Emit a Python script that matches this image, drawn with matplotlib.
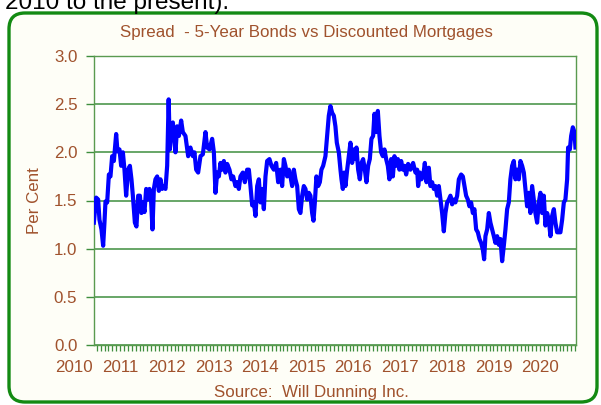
import matplotlib.pyplot as plt
import matplotlib.transforms as mtransforms
from matplotlib.patches import FancyBboxPatch
from matplotlib.ticker import MultipleLocator
import numpy as np

# spread between 5-year bond yield and discounted mortgage rate (per cent)
dates = [
    2010.437, 2010.486, 2010.529, 2010.557, 2010.600, 2010.636, 2010.664, 2010.686,
    2010.722, 2010.759, 2010.793, 2010.829, 2010.866, 2010.915, 2010.943, 2010.986,
    2011.022, 2011.059, 2011.093, 2011.129, 2011.172, 2011.209, 2011.243, 2011.273,
    2011.316, 2011.350, 2011.387, 2011.423, 2011.457, 2011.487, 2011.522, 2011.558,
    2011.594, 2011.629, 2011.665, 2011.693, 2011.723, 2011.757, 2011.794, 2011.830,
    2011.864, 2011.901, 2011.937, 2011.972, 2012.008, 2012.040, 2012.066, 2012.100,
    2012.130, 2012.186, 2012.222, 2012.259, 2012.308, 2012.344, 2012.400, 2012.458,
    2012.507, 2012.559, 2012.593, 2012.630, 2012.672, 2012.722, 2012.773, 2012.829,
    2012.865, 2012.915, 2012.972, 2013.009, 2013.043, 2013.080, 2013.116, 2013.150,
    2013.187, 2013.223, 2013.257, 2013.294, 2013.343, 2013.386, 2013.422, 2013.472,
    2013.508, 2013.544, 2013.579, 2013.630, 2013.673, 2013.722, 2013.759, 2013.793,
    2013.830, 2013.866, 2013.901, 2013.937, 2013.973, 2014.007, 2014.044, 2014.080,
    2014.115, 2014.151, 2014.200, 2014.243, 2014.294, 2014.344, 2014.387, 2014.436,
    2014.472, 2014.509, 2014.543, 2014.580, 2014.616, 2014.650, 2014.687, 2014.723,
    2014.757, 2014.794, 2014.830, 2014.864, 2014.901, 2014.937, 2014.972, 2015.008,
    2015.044, 2015.079, 2015.115, 2015.144, 2015.173, 2015.207, 2015.244, 2015.280,
    2015.314, 2015.351, 2015.400, 2015.437, 2015.472, 2015.507, 2015.544, 2015.580,
    2015.614, 2015.644, 2015.687, 2015.722, 2015.744, 2015.773, 2015.801, 2015.829,
    2015.866, 2015.902, 2015.936, 2015.972, 2016.009, 2016.043, 2016.065, 2016.101,
    2016.137, 2016.172, 2016.208, 2016.244, 2016.279, 2016.315, 2016.351, 2016.386,
    2016.422, 2016.450, 2016.487, 2016.523, 2016.558, 2016.594, 2016.630, 2016.665,
    2016.701, 2016.737, 2016.771, 2016.808, 2016.845, 2016.879, 2016.915, 2016.952,
    2016.986, 2017.023, 2017.059, 2017.093, 2017.130, 2017.172, 2017.222, 2017.279,
    2017.329, 2017.366, 2017.387, 2017.423, 2017.458, 2017.494, 2017.530, 2017.565,
    2017.616, 2017.650, 2017.687, 2017.723, 2017.758, 2017.794, 2017.830, 2017.865,
    2017.901, 2017.937, 2017.972, 2018.008, 2018.045, 2018.079, 2018.115, 2018.152,
    2018.186, 2018.223, 2018.259, 2018.308, 2018.345, 2018.379, 2018.415, 2018.452,
    2018.486, 2018.522, 2018.559, 2018.593, 2018.630, 2018.666, 2018.701, 2018.737,
    2018.773, 2018.801, 2018.829, 2018.866, 2018.902, 2018.936, 2018.973, 2019.009,
    2019.043, 2019.080, 2019.116, 2019.151, 2019.187, 2019.223, 2019.258, 2019.294,
    2019.330, 2019.364, 2019.401, 2019.437, 2019.472, 2019.508, 2019.545, 2019.579,
    2019.616, 2019.652, 2019.686, 2019.722, 2019.759, 2019.793, 2019.830, 2019.866,
    2019.900, 2019.937, 2019.973, 2020.008, 2020.044, 2020.080, 2020.115, 2020.151,
    2020.187, 2020.222, 2020.258, 2020.295, 2020.329, 2020.366, 2020.402, 2020.436,
    2020.473, 2020.509, 2020.543, 2020.580, 2020.601, 2020.638, 2020.666, 2020.702,
    2020.737, 2020.758,
]
spread = [
    1.27, 1.53, 1.51, 1.30, 1.20, 1.03, 1.27, 1.49,
    1.48, 1.77, 1.75, 1.96, 1.91, 2.19, 2.01, 2.03,
    1.86, 2.00, 1.82, 1.55, 1.82, 1.86, 1.72, 1.55,
    1.27, 1.23, 1.55, 1.55, 1.37, 1.48, 1.38, 1.62,
    1.51, 1.62, 1.48, 1.20, 1.62, 1.72, 1.75, 1.60,
    1.72, 1.62, 1.65, 1.62, 1.86, 2.55, 2.03, 2.27,
    2.31, 2.00, 2.27, 2.17, 2.33, 2.21, 2.17, 1.96,
    2.05, 1.96, 2.00, 1.82, 1.79, 1.96, 1.98, 2.21,
    2.05, 2.03, 2.14, 2.00, 1.58, 1.79, 1.75, 1.89,
    1.82, 1.91, 1.79, 1.88, 1.82, 1.72, 1.75, 1.65,
    1.69, 1.62, 1.75, 1.79, 1.69, 1.82, 1.82, 1.65,
    1.45, 1.48, 1.34, 1.65, 1.72, 1.48, 1.62, 1.41,
    1.75, 1.91, 1.93, 1.86, 1.82, 1.89, 1.69, 1.82,
    1.65, 1.93, 1.86, 1.75, 1.82, 1.75, 1.65, 1.82,
    1.72, 1.65, 1.41, 1.37, 1.55, 1.65, 1.62, 1.51,
    1.58, 1.55, 1.37, 1.29, 1.48, 1.75, 1.65, 1.69,
    1.82, 1.86, 1.96, 2.17, 2.38, 2.48, 2.41, 2.38,
    2.27, 2.10, 2.00, 1.82, 1.72, 1.62, 1.79, 1.65,
    1.82, 1.96, 2.10, 1.89, 2.03, 1.93, 2.05, 1.82,
    1.72, 1.89, 1.93, 1.82, 1.69, 1.86, 1.93, 2.14,
    2.17, 2.40, 2.21, 2.43, 2.17, 2.00, 1.96, 2.03,
    1.93, 1.86, 1.72, 1.93, 1.75, 1.96, 1.86, 1.93,
    1.82, 1.91, 1.82, 1.86, 1.77, 1.88, 1.82, 1.89,
    1.79, 1.82, 1.65, 1.79, 1.72, 1.75, 1.89, 1.69,
    1.84, 1.65, 1.69, 1.62, 1.65, 1.55, 1.65, 1.51,
    1.37, 1.18, 1.37, 1.48, 1.51, 1.55, 1.46, 1.51,
    1.48, 1.55, 1.72, 1.77, 1.75, 1.65, 1.55, 1.51,
    1.44, 1.48, 1.37, 1.41, 1.20, 1.17, 1.10, 1.06,
    0.99, 0.89, 1.13, 1.20, 1.37, 1.27, 1.20, 1.13,
    1.06, 1.13, 1.04, 1.10, 0.87, 1.03, 1.20, 1.41,
    1.48, 1.72, 1.86, 1.91, 1.72, 1.82, 1.72, 1.91,
    1.86, 1.79, 1.62, 1.44, 1.58, 1.37, 1.65, 1.51,
    1.37, 1.27, 1.48, 1.58, 1.37, 1.55, 1.24, 1.37,
    1.30, 1.13, 1.34, 1.41, 1.27, 1.17, 1.17, 1.17,
    1.30, 1.48, 1.51, 1.72, 2.05, 2.03, 2.17, 2.26,
    2.21, 2.05,
]
years = list(range(2010, 2021))

TEXT = '#A0522D'
GRID = '#3E8E3E'
FS = 12.2
plt.rcParams['font.family'] = ['Liberation Sans', 'DejaVu Sans']

fig = plt.figure(figsize=(6.01, 4.05), dpi=100)
fig.patch.set_facecolor('white')

# green rounded frame around the chart (pixel coordinates), kept behind the axes
frame = FancyBboxPatch((9, 3), 588, 389, boxstyle='round,pad=0,rounding_size=16',
                       transform=mtransforms.IdentityTransform(),
                       facecolor='#FEFEF7', edgecolor='#138A13', linewidth=2.4,
                       zorder=-10)
fig.add_artist(frame)

# leftover caption text from the page above the chart (cut by the top edge)
fig.text(0.008, 0.977, '2010 to the present).', fontsize=17.5, color='black',
         va='baseline', ha='left')

ax = fig.add_axes([94 / 601, 60 / 405, 482 / 601, 289 / 405])
ax.set_facecolor('white')
ax.plot(dates, spread, color='#0000FF', linewidth=3.0, solid_joinstyle='round', zorder=3)

ax.set_xlim(2010.44, 2020.77)
ax.set_ylim(0, 3.0)
ax.yaxis.set_major_locator(MultipleLocator(0.5))
ax.yaxis.set_major_formatter(plt.FuncFormatter(lambda v, p: f'{v:.1f}'))
ax.grid(axis='y', color=GRID, linewidth=1.1)
ax.set_axisbelow(True)

for s in ax.spines.values():
    s.set_color('#5A9A50')
    s.set_linewidth(1.0)

ax.tick_params(axis='y', colors=GRID, length=6, width=1.0, labelsize=FS,
               labelcolor=TEXT, pad=6)
ax.set_xticks([])
ax.set_xticks(np.arange(2010.5, 2020.76, 1 / 12), minor=True)
ax.tick_params(axis='x', which='minor', colors=GRID, length=4, width=0.9, direction='out')

for y in years:
    ax.text(y, -0.077, str(y), transform=ax.get_xaxis_transform(), ha='center',
            va='center', fontsize=FS, color=TEXT, clip_on=False)

ax.set_ylabel('Per Cent', fontsize=FS, color=TEXT)
ax.yaxis.set_label_coords(-0.108, 0.5)

fig.text(306 / 601, 1 - 33 / 405, 'Spread  - 5-Year Bonds vs Discounted Mortgages',
         ha='center', va='center', fontsize=FS, color=TEXT)
fig.text(311 / 601, 1 - 392 / 405, 'Source:  Will Dunning Inc.',
         ha='center', va='center', fontsize=FS, color=TEXT)

fig.savefig('out.png', dpi=100)
